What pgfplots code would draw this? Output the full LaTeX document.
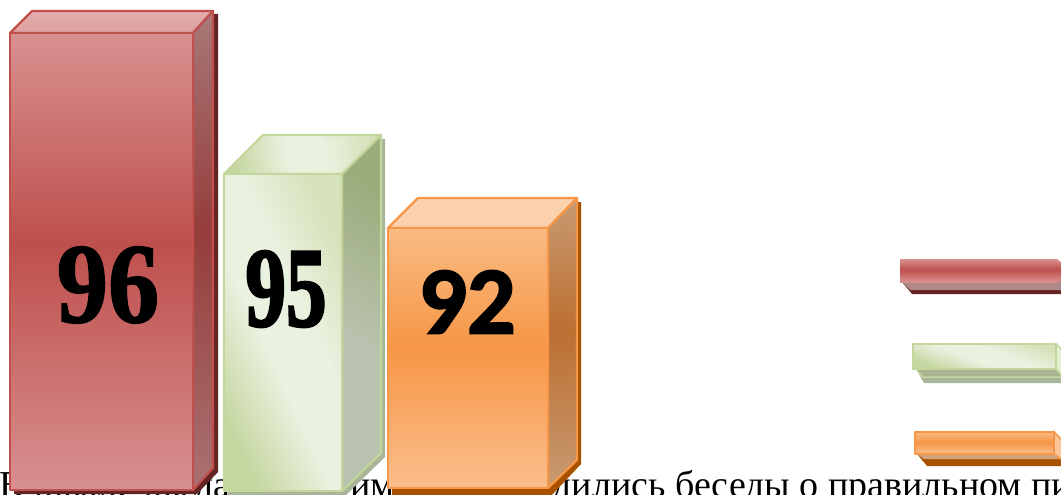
\documentclass[border=0pt]{standalone}
\usepackage{pgfplots}
\pgfplotsset{compat=1.18}
\usepackage{fontspec}
\setmainfont{Liberation Serif}
\setsansfont{Carlito}
\definecolor{rS}{HTML}{C0504D}\definecolor{rSh}{HTML}{632423}
\definecolor{gS}{HTML}{C3D69B}\definecolor{gSh}{HTML}{A9B59A}
\definecolor{oS}{HTML}{F79646}\definecolor{oSh}{HTML}{A85200}
\definecolor{ra}{HTML}{D89090}\definecolor{rb}{HTML}{BE4F4C}\definecolor{rc}{HTML}{D89190}
\definecolor{rsa}{HTML}{AA7272}\definecolor{rsb}{HTML}{953D3B}\definecolor{rsc}{HTML}{A87878}
\definecolor{rta}{HTML}{DDA0A0}\definecolor{rtb}{HTML}{E3ADAD}
\definecolor{oa}{HTML}{FBBE8C}\definecolor{ob}{HTML}{F79646}\definecolor{oc}{HTML}{F9BB84}
\definecolor{osa}{HTML}{C89A72}\definecolor{osb}{HTML}{BC6F31}
\definecolor{ga}{HTML}{C5D69F}\definecolor{gb}{HTML}{E9F1DF}\definecolor{gc}{HTML}{D5E2BA}
\definecolor{gsa}{HTML}{B9C2AE}\definecolor{gsb}{HTML}{9BAC7A}
\pgfdeclareverticalshading{rfront}{100bp}{color(0bp)=(ra); color(25bp)=(ra); color(52bp)=(rb); color(75bp)=(rc); color(100bp)=(rc)}
\pgfdeclareverticalshading{rside}{100bp}{color(0bp)=(rsa); color(25bp)=(rsa); color(52bp)=(rsb); color(75bp)=(rsc); color(100bp)=(rsc)}
\pgfdeclareverticalshading{rtop}{100bp}{color(0bp)=(rta); color(25bp)=(rta); color(75bp)=(rtb); color(100bp)=(rtb)}
\pgfdeclareverticalshading{ofront}{100bp}{color(0bp)=(oa); color(25bp)=(oa); color(52bp)=(ob); color(75bp)=(oc); color(100bp)=(oc)}
\pgfdeclareverticalshading{oside}{100bp}{color(0bp)=(osa); color(25bp)=(osa); color(52bp)=(osb); color(75bp)=(osa); color(100bp)=(osa)}
\pgfdeclareverticalshading{gfront}{100bp}{color(0bp)=(ga); color(25bp)=(ga); color(44bp)=(gb); color(58bp)=(gb); color(75bp)=(gc); color(100bp)=(gc)}
\pgfdeclareverticalshading{gside}{100bp}{color(0bp)=(gsa); color(25bp)=(gsa); color(45bp)=(gsa); color(75bp)=(gsb); color(100bp)=(gsb)}
\begin{document}
\begin{tikzpicture}
\begin{axis}[scale only axis,width=1061pt,height=495pt,xmin=0,xmax=1061,ymin=0,ymax=495,
 y dir=reverse,hide axis,clip=true]
\node[anchor=base west,inner sep=0pt,font=\fontsize{38}{38}\selectfont] at (axis cs:-1,497) {В школе бы};
\node[anchor=base west,inner sep=0pt,font=\fontsize{38}{38}\selectfont] at (axis cs:194,497) {ла с учащимися проводились};
\node[anchor=base west,inner sep=0pt,font=\fontsize{38}{38}\selectfont] at (axis cs:675,497) {беседы о правильном питании};
% red bar: shadow, top, side, front
\addplot[fill=rSh,draw=none] coordinates {(14,37)(36,14)(218,14)(218,472)(197,494)(14,494)} -- cycle;
\addplot[shade,shading=rtop,draw=rS,line width=2.2pt,line join=round] coordinates {(10,33)(32,11)(213,11)(193,33)} -- cycle;
\addplot[shade,shading=rside,draw=rS,line width=2.2pt,line join=round] coordinates {(193,33)(213,11)(213,468)(193,490)} -- cycle;
\addplot[shade,shading=rfront,draw=rS,line width=2.2pt,line join=round] coordinates {(10,33)(193,33)(193,490)(10,490)} -- cycle;
% green bar
\addplot[fill=gSh,draw=none] coordinates {(228,178)(267,139)(385,139)(385,457)(346,495)(228,495)} -- cycle;
\addplot[shade,shading=gfront,shading angle=-80,draw=gS,line width=2.2pt,line join=round] coordinates {(224,174)(263,135)(381,135)(342,174)} -- cycle;
\addplot[shade,shading=gside,shading angle=-30,draw=gS,line width=2.2pt,line join=round] coordinates {(342,174)(381,135)(381,453)(342,491)} -- cycle;
\addplot[shade,shading=gfront,shading angle=-65,draw=gS,line width=2.2pt,line join=round] coordinates {(224,174)(342,174)(342,491)(224,491)} -- cycle;
% orange bar
\addplot[fill=oSh,draw=none] coordinates {(392,232)(422,202)(581,202)(581,464)(552,495)(392,495)} -- cycle;
\addplot[fill=oS!45!white,draw=oS,line width=2.2pt,line join=round] coordinates {(388,228)(418,198)(577,198)(548,228)} -- cycle;
\addplot[shade,shading=oside,draw=oS,line width=2.2pt,line join=round] coordinates {(548,228)(577,198)(577,460)(548,488)} -- cycle;
\addplot[shade,shading=ofront,draw=oS,line width=2.2pt,line join=round] coordinates {(388,228)(548,228)(548,488)(388,488)} -- cycle;
% legend keys
\addplot[fill=rSh,draw=none] coordinates {(902,282)(912,294)(1062,294)(1062,282)} -- cycle;
\addplot[fill=rS!45!gray!80!white,draw=none] coordinates {(902,282)(910,290)(1062,290)(1062,282)} -- cycle;
\addplot[shade,shading=rfront,draw=none] coordinates {(1057,259)(1062,263)(1062,282)(1057,282)} -- cycle;
\addplot[shade,shading=rfront,draw=none] coordinates {(900,259)(1057,259)(1057,282)(900,282)} -- cycle;
\addplot[fill=gSh,draw=none] coordinates {(916,369)(924,383)(1062,383)(1062,369)} -- cycle;
\addplot[fill=gS!60!gray,draw=gS,line width=1.5pt] coordinates {(916,369)(923,377)(1063,377)(1056,369)} -- cycle;
\addplot[shade,shading=gfront,shading angle=-20,draw=gS,line width=2.2pt] coordinates {(913,344)(1056,344)(1056,369)(913,369)} -- cycle;
\addplot[fill=gS!40!white,draw=gS,line width=1.5pt] coordinates {(1056,344)(1064,352)(1064,377)(1056,369)} -- cycle;
\addplot[fill=oSh,draw=none] coordinates {(917,454)(927,466)(1062,466)(1062,454)} -- cycle;
\addplot[fill=oS!55!gray!80!white,draw=none] coordinates {(917,454)(924,459)(1062,459)(1055,454)} -- cycle;
\addplot[shade,shading=ofront,draw=oS,line width=2.2pt,line join=round] coordinates {(915,432)(1054,432)(1054,454)(915,454)} -- cycle;
\addplot[fill=oS!55!white,draw=oS,line width=1.5pt] coordinates {(1054,432)(1062,440)(1062,460)(1054,454)} -- cycle;
% labels
\node[xscale=0.9,inner sep=0pt,font=\fontsize{114}{114}\selectfont\bfseries\addfontfeature{FakeBold=1.5}] at (axis cs:108,285) {96};
\node[xscale=0.72,inner sep=0pt,font=\fontsize{113}{113}\selectfont\bfseries\addfontfeature{FakeBold=2.5}] at (axis cs:286,289) {95};
\node[inner sep=0pt,font=\sffamily\bfseries\fontsize{96}{96}\selectfont\addfontfeature{FakeBold=2}] at (axis cs:467,302) {92};
\end{axis}
\pgfresetboundingbox
\path[use as bounding box] (0,0) rectangle (1061pt,495pt);
\end{tikzpicture}
\end{document}
